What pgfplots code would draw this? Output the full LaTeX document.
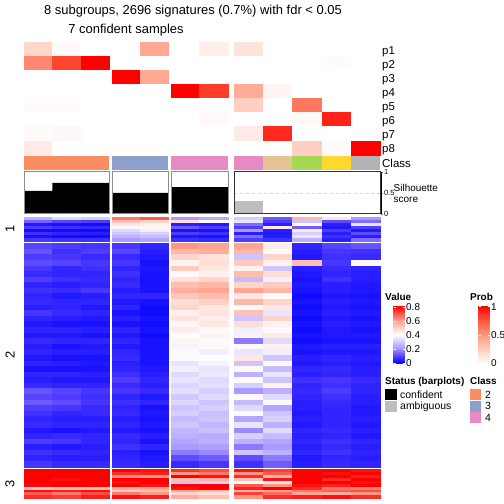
\documentclass[border=0pt]{standalone}
\usepackage{fontspec}
\setmainfont{Liberation Sans}
\usepackage{pgfplots}
\pgfplotsset{compat=1.18}
\usepackage{pgfplotstable}

\definecolor{clsA}{HTML}{FC8D62}
\definecolor{clsB}{HTML}{8DA0CB}
\definecolor{clsC}{HTML}{E78AC3}
\definecolor{clsD}{HTML}{E5C494}
\definecolor{clsE}{HTML}{A6D854}
\definecolor{clsF}{HTML}{FFD92F}
\definecolor{clsG}{HTML}{B3B3B3}
\definecolor{ambig}{HTML}{BEBEBE}

\pgfplotsset{
  colormap={probmap}{rgb255=(255,255,255) rgb255=(255,205,190) rgb255=(255,150,125) rgb255=(255,85,60) rgb255=(255,0,0)},
  colormap={valmap}{[1pt] rgb255(0pt)=(0,0,255); rgb255(10pt)=(80,60,255); rgb255(22pt)=(170,155,255); rgb255(41pt)=(255,255,255); rgb255(60pt)=(255,165,145); rgb255(82pt)=(255,0,0)},
  pxaxis/.style={at={(0bp,0bp)}, anchor=south west, width=504bp, height=504bp, scale only axis,
    xmin=0, xmax=504, ymin=0, ymax=504, hide axis, clip=false},
}
% heatmap block: #1 columns, #2 first column centre, #3 column step, #4 first row centre (px from top), #5 row step, #6 table (row-major)
\newcommand\hm[6]{\addplot[scatter, only marks, mark=square*, mark size=1bp,
    scatter/use mapped color={draw=mapped color, fill=mapped color},
    mark options={xscale={#3/2}, yscale={#5/2}, line width=0.15bp}, point meta=explicit]
  table[x index=0, y index=0, meta index=0,
    x expr={#2+#3*(\coordindex-#1*floor((\coordindex+0.5)/#1))},
    y expr={504-(#4+#5*floor((\coordindex+0.5)/#1))}] {#6};}

% ---------- membership probabilities p1..p8 (row-major, one table per column group) ----------
\pgfplotstableread[row sep=\\]{v\\ .20\\.03\\0\\ .55\\.80\\1\\ 0\\0\\0\\ 0\\0\\0\\ .02\\.02\\0\\ 0\\0\\0\\ .02\\.04\\0\\ .10\\0\\0\\}\tPa
\pgfplotstableread[row sep=\\]{v\\ 0\\.42\\ 0\\0\\ 1\\.42\\ 0\\0\\ 0\\0\\ 0\\0\\ 0\\0\\ 0\\0\\}\tPb
\pgfplotstableread[row sep=\\]{v\\ 0\\.08\\ 0\\0\\ 0\\0\\ 1\\.82\\ 0\\0\\ 0\\.03\\ 0\\0\\ 0\\0\\}\tPc
\pgfplotstableread[row sep=\\]{v\\ .14\\0\\0\\0\\0\\ 0\\0\\0\\.02\\0\\ 0\\0\\0\\0\\0\\ .40\\.05\\0\\0\\0\\ .24\\0\\.62\\0\\0\\ 0\\0\\.03\\.90\\0\\ .10\\.88\\0\\0\\0\\ 0\\0\\.24\\.02\\1\\}\tPd

% ---------- signature values, row slice 1 ----------
\pgfplotstableread[row sep=\\]{v\\ .26\\.34\\.32\\ .15\\.11\\.10\\ .04\\.03\\.02\\ .10\\.08\\.07\\ .02\\.02\\.02\\ .08\\.06\\.05\\ .03\\.02\\.02\\ .09\\.08\\.08\\}\tAa
\pgfplotstableread[row sep=\\]{v\\ .66\\.70\\ .55\\.50\\ .46\\.44\\ .40\\.43\\ .34\\.38\\ .30\\.32\\ .26\\.28\\ .22\\.24\\}\tAb
\pgfplotstableread[row sep=\\]{v\\ .22\\.25\\ .48\\.40\\ .05\\.04\\ .14\\.10\\ .03\\.03\\ .10\\.08\\ .04\\.03\\ .08\\.07\\}\tAc
\pgfplotstableread[row sep=\\]{v\\ .32\\.14\\.56\\.46\\.22\\ .36\\.10\\.30\\.12\\.16\\ .16\\.05\\.42\\.05\\.36\\ .10\\.46\\.14\\.04\\.10\\ .22\\.05\\.46\\.10\\.04\\ .05\\.04\\.32\\.05\\.12\\ .16\\.05\\.36\\.08\\.05\\ .10\\.08\\.26\\.05\\.16\\}\tAd

% ---------- signature values, row slice 2 ----------
\pgfplotstableread[row sep=\\]{v\\ .11\\.10\\.09\\ .13\\.08\\.10\\ .10\\.09\\.07\\ .12\\.11\\.09\\ .09\\.06\\.08\\ .07\\.06\\.06\\ .10\\.08\\.07\\ .06\\.05\\.06\\ .08\\.07\\.09\\ .06\\.04\\.05\\ .07\\.06\\.06\\ .05\\.06\\.04\\ .09\\.07\\.06\\ .06\\.05\\.04\\ .04\\.03\\.03\\ .06\\.06\\.05\\ .04\\.04\\.03\\ .07\\.06\\.06\\ .05\\.03\\.04\\ .06\\.05\\.05\\ .04\\.03\\.03\\ .06\\.05\\.04\\ .03\\.03\\.03\\ .06\\.06\\.05\\ .05\\.04\\.04\\ .07\\.06\\.06\\ .13\\.11\\.09\\ .11\\.10\\.08\\ .14\\.12\\.09\\ .10\\.09\\.07\\ .08\\.06\\.07\\ .06\\.05\\.05\\ .07\\.06\\.06\\ .04\\.03\\.04\\ .06\\.07\\.06\\ .10\\.09\\.06\\ .05\\.04\\.05\\ .08\\.07\\.06\\ .06\\.05\\.05\\ .09\\.07\\.07\\}\tBa
\pgfplotstableread[row sep=\\]{v\\ .09\\.06\\ .11\\.05\\ .07\\.04\\ .09\\.03\\ .06\\.04\\ .08\\.03\\ .06\\.03\\ .07\\.03\\ .05\\.03\\ .06\\.06\\ .04\\.03\\ .06\\.02\\ .03\\.02\\ .05\\.03\\ .03\\.02\\ .06\\.03\\ .04\\.02\\ .06\\.03\\ .04\\.03\\ .06\\.03\\ .07\\.03\\ .05\\.03\\ .06\\.04\\ .08\\.05\\ .10\\.06\\ .07\\.05\\ .09\\.07\\ .06\\.04\\ .08\\.06\\ .06\\.03\\ .07\\.04\\ .05\\.03\\ .06\\.04\\ .04\\.03\\ .07\\.05\\ .06\\.03\\ .08\\.06\\ .05\\.03\\ .06\\.04\\ .07\\.05\\}\tBb
\pgfplotstableread[row sep=\\]{v\\ .62\\.60\\ .56\\.58\\ .50\\.47\\ .44\\.48\\ .52\\.46\\ .42\\.44\\ .47\\.50\\ .55\\.56\\ .58\\.60\\ .53\\.55\\ .48\\.51\\ .50\\.46\\ .44\\.47\\ .47\\.45\\ .43\\.46\\ .45\\.42\\ .41\\.44\\ .43\\.40\\ .39\\.42\\ .42\\.38\\ .40\\.41\\ .36\\.39\\ .38\\.36\\ .34\\.37\\ .36\\.34\\ .33\\.35\\ .35\\.32\\ .31\\.34\\ .33\\.30\\ .30\\.32\\ .32\\.29\\ .28\\.30\\ .30\\.27\\ .27\\.29\\ .26\\.25\\ .24\\.26\\ .22\\.23\\ .18\\.20\\ .12\\.14\\ .07\\.09\\}\tBc
\pgfplotstableread[row sep=\\]{v\\ .60\\.45\\.06\\.11\\.13\\ .56\\.40\\.05\\.09\\.08\\ .30\\.50\\.04\\.08\\.07\\ .52\\.44\\.55\\.09\\.42\\ .44\\.30\\.05\\.07\\.06\\ .55\\.48\\.04\\.06\\.05\\ .28\\.38\\.03\\.08\\.05\\ .50\\.52\\.04\\.05\\.04\\ .60\\.56\\.03\\.05\\.04\\ .46\\.42\\.02\\.04\\.03\\ .56\\.50\\.03\\.05\\.04\\ .40\\.46\\.02\\.04\\.03\\ .54\\.36\\.03\\.05\\.04\\ .30\\.50\\.02\\.04\\.03\\ .48\\.44\\.03\\.05\\.04\\ .38\\.40\\.02\\.04\\.03\\ .44\\.46\\.03\\.04\\.04\\ .18\\.34\\.02\\.03\\.03\\ .42\\.44\\.04\\.05\\.05\\ .36\\.38\\.03\\.04\\.04\\ .46\\.30\\.05\\.06\\.05\\ .30\\.42\\.04\\.05\\.04\\ .42\\.28\\.06\\.07\\.05\\ .26\\.36\\.05\\.06\\.05\\ .40\\.30\\.08\\.09\\.07\\ .32\\.44\\.06\\.08\\.06\\ .22\\.26\\.07\\.10\\.06\\ .42\\.34\\.06\\.08\\.05\\ .28\\.40\\.05\\.07\\.05\\ .34\\.24\\.05\\.06\\.04\\ .40\\.30\\.04\\.06\\.04\\ .24\\.32\\.05\\.06\\.05\\ .36\\.26\\.04\\.06\\.04\\ .20\\.34\\.06\\.07\\.05\\ .32\\.28\\.05\\.06\\.04\\ .26\\.24\\.06\\.08\\.06\\ .18\\.22\\.05\\.07\\.05\\ .30\\.26\\.06\\.08\\.06\\ .12\\.18\\.04\\.06\\.05\\ .08\\.14\\.05\\.07\\.06\\}\tBd

% ---------- signature values, row slice 3 ----------
\pgfplotstableread[row sep=\\]{v\\ .82\\.82\\.82\\ .82\\.82\\.82\\ .82\\.82\\.82\\ .82\\.80\\.82\\ .82\\.82\\.82\\ .81\\.82\\.82\\ .52\\.55\\.54\\ .80\\.78\\.80\\ .70\\.66\\.72\\ .76\\.74\\.78\\}\tCa
\pgfplotstableread[row sep=\\]{v\\ .82\\.80\\ .76\\.78\\ .64\\.62\\ .82\\.82\\ .80\\.82\\ .82\\.80\\ .58\\.60\\ .52\\.55\\ .66\\.62\\ .80\\.78\\}\tCb
\pgfplotstableread[row sep=\\]{v\\ .76\\.72\\ .62\\.66\\ .82\\.80\\ .55\\.58\\ .30\\.32\\ .82\\.82\\ .80\\.82\\ .60\\.56\\ .50\\.48\\ .58\\.54\\}\tCc
\pgfplotstableread[row sep=\\]{v\\ .80\\.74\\.82\\.82\\.80\\ .62\\.70\\.82\\.80\\.82\\ .76\\.56\\.82\\.82\\.78\\ .54\\.80\\.82\\.76\\.82\\ .40\\.45\\.82\\.82\\.80\\ .70\\.62\\.80\\.78\\.82\\ .78\\.82\\.76\\.66\\.64\\ .56\\.60\\.66\\.70\\.72\\ .74\\.68\\.60\\.58\\.62\\ .62\\.76\\.78\\.80\\.76\\}\tCd

\begin{document}
\begin{tikzpicture}[x=1bp,y=1bp]
\path[use as bounding box] (0bp,0bp) rectangle (504bp,504bp);

% membership probability heatmap
\begin{axis}[pxaxis, colormap name=probmap, point meta min=0, point meta max=1]
\hm{3}{38.17}{28.33}{49}{14.1}{\tPa}
\hm{2}{126.1}{28.15}{49}{14.1}{\tPb}
\hm{2}{185.25}{28.5}{49}{14.1}{\tPc}
\hm{5}{248.6}{29.2}{49}{14.1}{\tPd}
\end{axis}

% signature heatmap
\begin{axis}[pxaxis, colormap name=valmap, point meta min=0, point meta max=0.82]
\hm{3}{38.17}{28.33}{218.2}{3.075}{\tAa}
\hm{2}{126.1}{28.15}{218.2}{3.075}{\tAb}
\hm{2}{185.25}{28.5}{218.2}{3.075}{\tAc}
\hm{5}{248.6}{29.2}{218.2}{3.075}{\tAd}
\hm{3}{38.17}{28.33}{246.1}{5.585}{\tBa}
\hm{2}{126.1}{28.15}{246.1}{5.585}{\tBb}
\hm{2}{185.25}{28.5}{246.1}{5.585}{\tBc}
\hm{5}{248.6}{29.2}{246.1}{5.585}{\tBd}
\hm{3}{38.17}{28.33}{470.75}{2.9}{\tCa}
\hm{2}{126.1}{28.15}{470.75}{2.9}{\tCb}
\hm{2}{185.25}{28.5}{470.75}{2.9}{\tCc}
\hm{5}{248.6}{29.2}{470.75}{2.9}{\tCd}
\end{axis}

% class annotation
\begin{axis}[at={(0bp,334bp)}, anchor=south west, width=504bp, height=14bp, scale only axis,
  xmin=0, xmax=504, ymin=0, ymax=1, hide axis]
\addplot[ybar, bar width=85, bar shift=0pt, fill=clsA, draw=none] coordinates {(66.5,1)};
\addplot[ybar, bar width=56.3, bar shift=0pt, fill=clsB, draw=none] coordinates {(140.15,1)};
\addplot[ybar, bar width=57, bar shift=0pt, fill=clsC, draw=none] coordinates {(199.5,1)};
\addplot[ybar, bar width=29.2, bar shift=0pt, fill=clsC, draw=none] coordinates {(248.6,1)};
\addplot[ybar, bar width=29.2, bar shift=0pt, fill=clsD, draw=none] coordinates {(277.8,1)};
\addplot[ybar, bar width=29.2, bar shift=0pt, fill=clsE, draw=none] coordinates {(307.0,1)};
\addplot[ybar, bar width=29.2, bar shift=0pt, fill=clsF, draw=none] coordinates {(336.2,1)};
\addplot[ybar, bar width=29.2, bar shift=0pt, fill=clsG, draw=none] coordinates {(365.4,1)};
\end{axis}

% silhouette barplot
\begin{axis}[at={(24bp,290bp)}, anchor=south west, width=357bp, height=42bp, scale only axis,
  xmin=24, xmax=381, ymin=0, ymax=1, axis x line=none, axis y line*=right,
  ytick={0,0.5,1}, yticklabels={0,0.5,1},
  /pgf/number format/assume math mode=true,
  yticklabel style={font=\fontsize{7.5}{8}\selectfont, inner sep=1bp},
  major tick length=2bp, tick align=outside, y axis line style={line width=0.5bp},
  clip=false]
\addplot[gray!35, dashed, line width=0.6bp, no marks] coordinates {(234,0.5) (381,0.5)};
\addplot[ybar, bar width=28.33, bar shift=0pt, fill=black, draw=none] coordinates {(38.17,0.55) (66.5,0.74) (94.83,0.74)};
\addplot[ybar, bar width=28.15, bar shift=0pt, fill=black, draw=none] coordinates {(126.1,0.50) (154.25,0.50)};
\addplot[ybar, bar width=28.5, bar shift=0pt, fill=black, draw=none] coordinates {(185.25,0.64) (213.75,0.64)};
\addplot[ybar, bar width=29.2, bar shift=0pt, fill=ambig, draw=none] coordinates {(248.6,0.31)};
\draw[black!45, line width=1bp] (axis cs:24,0) rectangle (axis cs:109,1);
\draw[black!45, line width=1bp] (axis cs:112,0) rectangle (axis cs:168.3,1);
\draw[black!45, line width=1bp] (axis cs:171,0) rectangle (axis cs:228,1);
\draw[black!80, line width=1bp] (axis cs:234,0) rectangle (axis cs:380,1);
\end{axis}

% colorbars
\pgfplotscolorbardrawstandalone[colormap name=valmap, point meta min=0, point meta max=0.82,
  colorbar style={at={(385bp,140.5bp)}, anchor=south west, width=11bp, height=58bp, scale only axis,
    ytick={0,0.2,0.4,0.6,0.8}, yticklabels={0,0.2,0.4,0.6,0.8},
    yticklabel style={font=\fontsize{10}{10}\selectfont, inner sep=1.5bp},
    major tick length=2bp, tick style={white, line width=0.6bp}, axis line style={draw=none}}]
\pgfplotscolorbardrawstandalone[colormap name=probmap, point meta min=0, point meta max=1.02,
  colorbar style={at={(470bp,140.5bp)}, anchor=south west, width=11bp, height=58bp, scale only axis,
    ytick={0,0.5,1}, yticklabels={0,0.5,1},
    yticklabel style={font=\fontsize{10}{10}\selectfont, inner sep=1.5bp},
    major tick length=2bp, tick style={white, line width=0.6bp}, axis line style={draw=none}}]

\begin{scope}[yshift=504bp, x=1bp, y=-1bp]
% titles
\node[anchor=base, font=\fontsize{13}{15}\selectfont] at (193,14.6) {8 subgroups, 2696 signatures (0.7\%) with fdr < 0.05};
\node[anchor=base, font=\fontsize{13}{15}\selectfont] at (126,33.2) {7 confident samples};

% annotation names
\begin{scope}[every node/.style={anchor=base west, inner sep=0pt, font=\fontsize{11.5}{12}\selectfont}]
\node at (382,54.2) {p1};
\node at (382,68.3) {p2};
\node at (382,82.4) {p3};
\node at (382,96.5) {p4};
\node at (382,110.6) {p5};
\node at (382,124.7) {p6};
\node at (382,138.8) {p7};
\node at (382,152.9) {p8};
\node at (382,167.3) {Class};
\end{scope}
\node[anchor=west, align=left, inner sep=0pt, font=\fontsize{10}{11}\selectfont] at (393.5,193.5) {Silhouette\\score};

% row slice titles
\node[rotate=90, font=\fontsize{13}{15}\selectfont] at (10,229) {1};
\node[rotate=90, font=\fontsize{13}{15}\selectfont] at (10,355) {2};
\node[rotate=90, font=\fontsize{13}{15}\selectfont] at (10,483.5) {3};

% legends
\node[anchor=base west, inner sep=0pt, font=\bfseries\fontsize{10}{12}\selectfont] at (385,300.7) {Value};
\node[anchor=base west, inner sep=0pt, font=\bfseries\fontsize{10}{12}\selectfont] at (470,300.7) {Prob};
\node[anchor=base west, inner sep=0pt, font=\bfseries\fontsize{10}{12}\selectfont] at (385,384.3) {Status (barplots)};
\node[anchor=base west, inner sep=0pt, font=\bfseries\fontsize{10}{12}\selectfont] at (470,384.3) {Class};
\fill[black] (385.3,389.5) rectangle (396.5,400.3);
\fill[ambig] (385.3,400.8) rectangle (396.5,411.8);
\fill[clsA] (470.3,389.5) rectangle (481.3,400.3);
\fill[clsB] (470.3,400.8) rectangle (481.3,411.8);
\fill[clsC] (470.3,412.3) rectangle (481.3,423.3);
\begin{scope}[every node/.style={anchor=base west, inner sep=0pt, font=\fontsize{10.5}{12}\selectfont}]
\node at (400,398.6) {confident};
\node at (400,409.8) {ambiguous};
\node at (485,398.6) {2};
\node at (485,409.8) {3};
\node at (485,421.2) {4};
\end{scope}
\end{scope}
\end{tikzpicture}
\end{document}
